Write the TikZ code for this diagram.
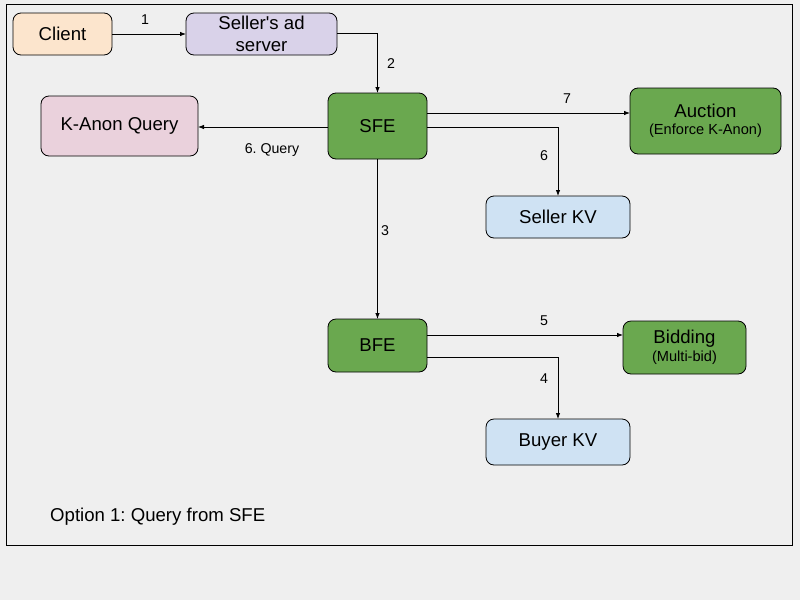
\documentclass[tikz,border=0pt]{standalone}
\usepackage{fontspec}
\setmainfont{Liberation Sans}[Ligatures=TeXOff]
\usetikzlibrary{arrows.meta}
\definecolor{bg}{HTML}{EFEFEF}
\definecolor{peach}{HTML}{FCE5CD}
\definecolor{lav}{HTML}{D9D2E9}
\definecolor{pink}{HTML}{EAD1DC}
\definecolor{grn}{HTML}{6AA84F}
\definecolor{lblue}{HTML}{CFE2F3}
\frenchspacing
\tikzset{
  box/.style={draw=black, line width=0.8pt, rounded corners=8pt, inner sep=0pt, outer sep=0pt, align=center, font=\fontsize{18.6}{21.5}\selectfont},
  arr/.style={draw=black, line width=0.8pt, -{Latex[length=6pt,width=4.5pt]}},
  lbl/.style={font=\fontsize{14.2}{16}\selectfont, inner sep=0pt},
}
\begin{document}
\begin{tikzpicture}[x=1pt,y=-1pt]
\useasboundingbox[fill=bg] (0,0) rectangle (800,600);
\draw[line width=0.8pt] (6,4) rectangle (792,545);

\node[box, fill=peach, minimum width=99pt, minimum height=42pt] (client) at (62.5,34) {\raisebox{-1.5pt}{Client}};
\node[box, fill=lav, minimum width=151pt, minimum height=42pt] (seller) at (261.5,34) {Seller's ad\\server};
\node[box, fill=pink, minimum width=157pt, minimum height=60pt] (kanon) at (119.5,126) {\raisebox{-1pt}{K-Anon Query}};
\node[box, fill=grn, minimum width=99pt, minimum height=66pt] (sfe) at (377.5,126) {\raisebox{-1pt}{SFE}};
\node[box, fill=grn, minimum width=151pt, minimum height=66pt] (auction) at (705.5,121) {\raisebox{-2pt}{Auction}\\[-2pt]{\fontsize{14.6}{16}\selectfont (Enforce K-Anon)}};
\node[box, fill=grn, minimum width=123pt, minimum height=53pt] (bidding) at (684.5,347.5) {\raisebox{-2pt}{Bidding}\\[-2pt]{\fontsize{14.6}{16}\selectfont (Multi-bid)}};
\node[box, fill=lblue, minimum width=144pt, minimum height=42pt] (sellerkv) at (558,217) {\raisebox{-1pt}{Seller KV}};
\node[box, fill=grn, minimum width=99pt, minimum height=53pt] (bfe) at (377.5,345.5) {\raisebox{-1pt}{BFE}};
\node[box, fill=lblue, minimum width=144pt, minimum height=46pt] (buyerkv) at (558,442) {\raisebox{-1pt}{Buyer KV}};

\draw[arr] (client) -- (seller);
\draw[arr] ([yshift=1pt]seller.east) -| (sfe.north);
\draw[arr] ([yshift=-1pt]sfe.west) -- ([yshift=-1pt]sfe.west -| kanon.east);
\draw[arr] ([yshift=13pt]sfe.east) -- ([yshift=13pt]sfe.east -| auction.west);
\draw[arr] ([yshift=-1pt]sfe.east) -| (sellerkv.north);
\draw[arr] (sfe.south) -- (bfe.north);
\draw[arr] ([yshift=10.5pt]bfe.east) -- ([yshift=10.5pt]bfe.east -| bidding.west);
\draw[arr] ([yshift=-11.5pt]bfe.east) -| (buyerkv.north);

\node[lbl] (l1) at (145,20) {1};
\node[lbl] (l2) at (391,64) {2};
\node[lbl] (l6q) at (272,150) {6. Query};
\node[lbl] (l7) at (567,99) {7};
\node[lbl] (l6) at (544,156) {6};
\node[lbl] (l3) at (385,231) {3};
\node[lbl] (l5) at (544,321) {5};
\node[lbl] (l4) at (544,379) {4};

\node[anchor=west, inner sep=0pt, font=\fontsize{18.6}{21}\selectfont] (opt) at (50,517) {Option 1: Query from SFE};
\end{tikzpicture}
\end{document}
